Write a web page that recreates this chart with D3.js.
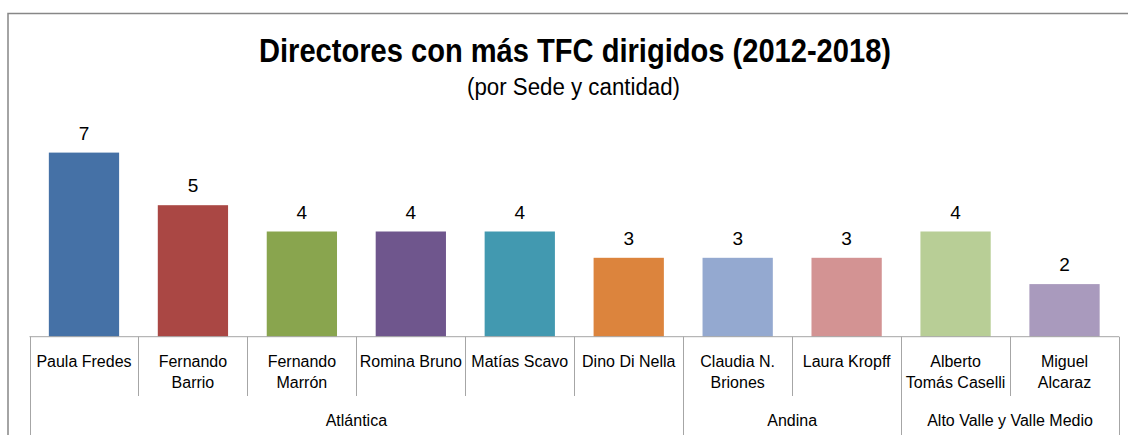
<!DOCTYPE html>
<html>
<head>
<meta charset="utf-8">
<script src="https://cdn.jsdelivr.net/npm/d3@7"></script>
<style>
  body { margin: 0; background: #fff; }
  svg { display: block; font-family: "Liberation Sans", Arial, sans-serif; }
</style>
</head>
<body>
<svg></svg>
<script>
// datos
var directores = ["Paula Fredes", "Fernando\nBarrio", "Fernando\nMarrón", "Romina Bruno", "Matías Scavo",
                  "Dino Di Nella", "Claudia N.\nBriones", "Laura Kropff", "Alberto\nTomás Caselli", "Miguel\nAlcaraz"];
var cantidad = [7, 5, 4, 4, 4, 3, 3, 3, 4, 2];
var sedes = ["Atlántica", "Andina", "Alto Valle y Valle Medio"];
var sedeDeDirector = [0, 0, 0, 0, 0, 0, 1, 1, 2, 2];
var colores = ["#4571A6", "#AA4744", "#89A54E", "#6F568D", "#4299B0",
               "#DC843D", "#94A9D0", "#D39393", "#B8CE96", "#A99ABD"];

var svgWidth = 1128;
var svgHeight = 435;
var baseY = 336.7;

var svg = d3.select('svg')
    .attr('width', svgWidth)
    .attr('height', svgHeight);

// marco del grafico (solo borde izquierdo y superior visibles)
svg.append('path')
    .attr('d', 'M8,440 L8,13.5 L1140,13.5')
    .attr('fill', 'none')
    .attr('stroke', '#878787')
    .attr('stroke-width', 1.5);

svg.append('text')
    .attr('x', 259)
    .attr('y', 62)
    .attr('font-size', 34)
    .attr('font-weight', 'bold')
    .attr('textLength', 632)
    .attr('lengthAdjust', 'spacingAndGlyphs')
    .attr('fill', '#000')
    .text('Directores con más TFC dirigidos (2012-2018)');

svg.append('text')
    .attr('x', 467)
    .attr('y', 95)
    .attr('font-size', 23)
    .attr('textLength', 213)
    .attr('lengthAdjust', 'spacingAndGlyphs')
    .attr('fill', '#000')
    .text('(por Sede y cantidad)');

var x = d3.scaleBand()
    .domain(d3.range(directores.length))
    .range([29.5, 1119])
    .paddingInner(0.355)
    .paddingOuter(0.1775);

var y = d3.scaleLinear()
    .domain([0, 8])
    .range([baseY, baseY - 8 * 26.3]);

var step = x.step();
var left = 29.5;

svg.selectAll('rect.bar')
    .data(cantidad)
    .enter()
    .append('rect')
    .attr('class', 'bar')
    .attr('x', function(d, i) { return x(i); })
    .attr('y', function(d) { return y(d); })
    .attr('width', x.bandwidth())
    .attr('height', function(d) { return baseY - y(d); })
    .attr('fill', function(d, i) { return colores[i]; });

svg.selectAll('text.valor')
    .data(cantidad)
    .enter()
    .append('text')
    .attr('class', 'valor')
    .attr('x', function(d, i) { return x(i) + x.bandwidth() / 2; })
    .attr('y', function(d) { return y(d) - 13; })
    .attr('text-anchor', 'middle')
    .attr('font-size', 19)
    .text(function(d) { return d; });

// eje de categorias
svg.append('line')
    .attr('x1', left).attr('x2', 1119)
    .attr('y1', baseY).attr('y2', baseY)
    .attr('stroke', '#a6a6a6');

// limites entre grupos (sedes)
var limites = [0];
sedeDeDirector.forEach(function(s, i) {
    if (i > 0 && s !== sedeDeDirector[i - 1]) limites.push(i);
});
limites.push(directores.length);

svg.selectAll('line.tick')
    .data(d3.range(directores.length + 1))
    .enter()
    .append('line')
    .attr('class', 'tick')
    .attr('x1', function(i) { return Math.round(left + step * i) + 0.5; })
    .attr('x2', function(i) { return Math.round(left + step * i) + 0.5; })
    .attr('y1', baseY)
    .attr('y2', function(i) { return limites.indexOf(i) >= 0 ? 440 : 396; })
    .attr('stroke', '#a6a6a6');

var etiquetas = svg.selectAll('text.cat')
    .data(directores)
    .enter()
    .append('text')
    .attr('class', 'cat')
    .attr('text-anchor', 'middle')
    .attr('font-size', 16)
    .attr('fill', '#000');

etiquetas.each(function(d, i) {
    var t = d3.select(this);
    d.split('\n').forEach(function(linea, k) {
        t.append('tspan')
            .attr('x', left + step * (i + 0.5))
            .attr('y', 366.7 + k * 21.6)
            .text(linea);
    });
});

svg.selectAll('text.sede')
    .data(sedes)
    .enter()
    .append('text')
    .attr('class', 'sede')
    .attr('x', function(d, i) { return left + step * (limites[i] + limites[i + 1]) / 2; })
    .attr('y', 426)
    .attr('text-anchor', 'middle')
    .attr('font-size', 16)
    .attr('fill', '#000')
    .text(function(d) { return d; });
</script>
</body>
</html>
